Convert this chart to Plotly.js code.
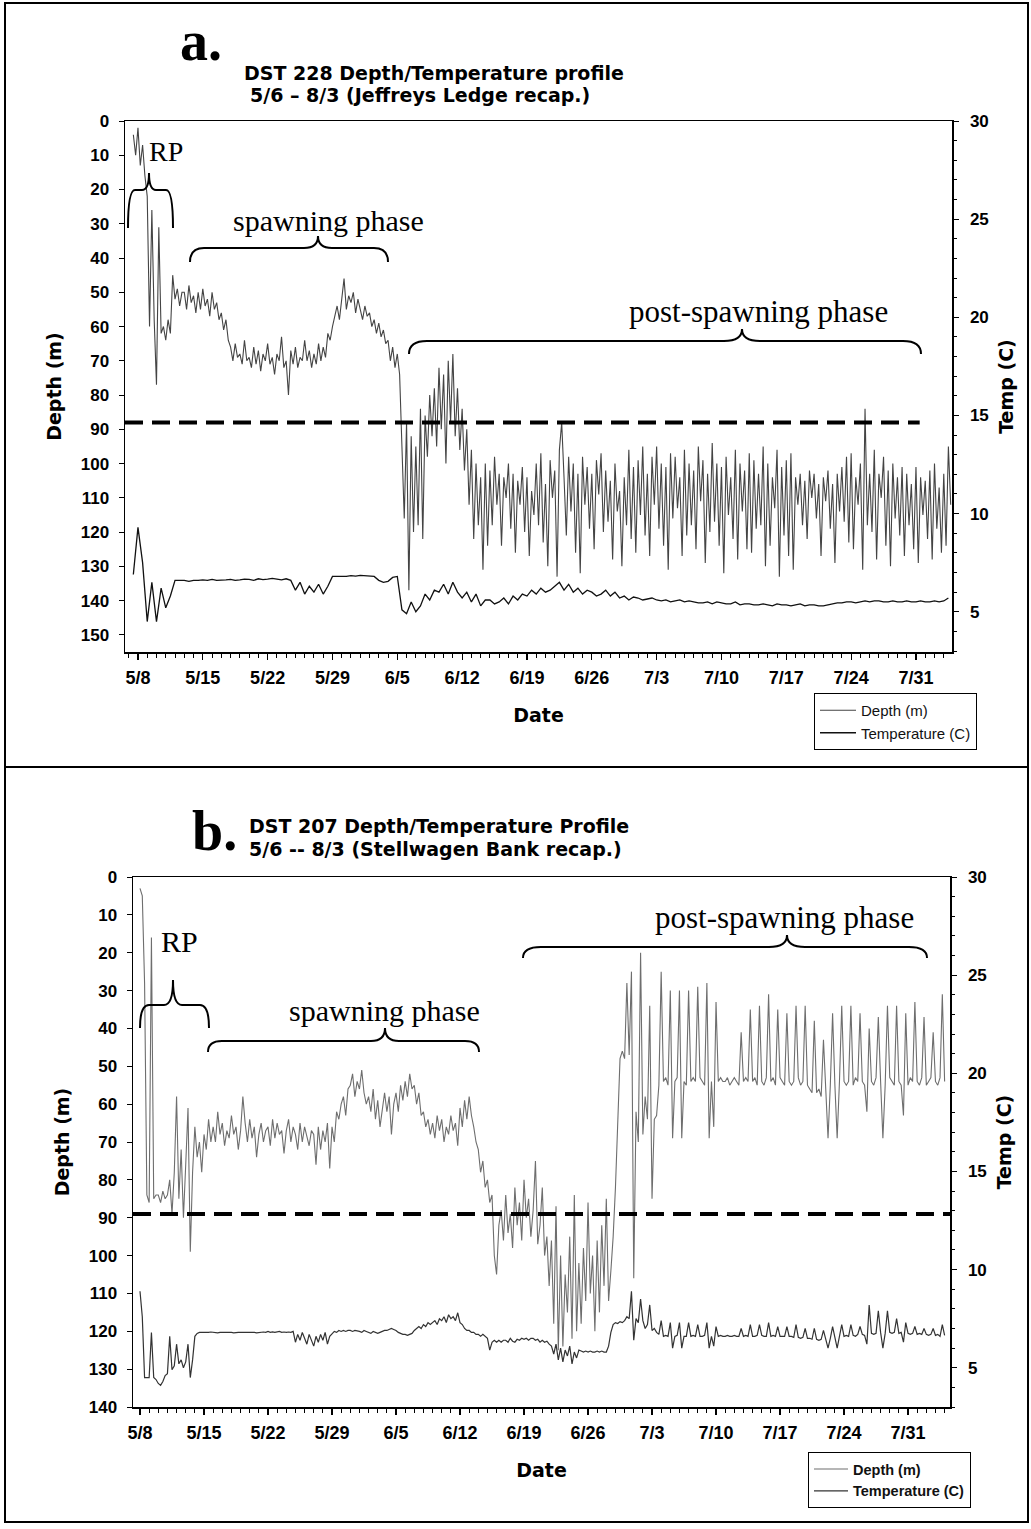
<!DOCTYPE html>
<html><head><meta charset="utf-8">
<script src="https://cdn.plot.ly/plotly-3.0.1.min.js"></script>
<style>html,body{margin:0;padding:0;background:#fff}</style>
</head><body><div id="chart" style="width:1031px;height:1529px"></div>
<script>
// ---------------- DATA ----------------
const YEAR = 2005;
const weekTickLabels = ['5/8','5/15','5/22','5/29','6/5','6/12','6/19','6/26','7/3','7/10','7/17','7/24','7/31'];

// Panel a: DST 228 (Jeffreys Ledge) — depth every 6 h from 5/7 12:00
const depthA_start = '5/7 12';
const depthA_stepHours = 6;
const depthA = [4,10,
2,13,7,16, 22,60,26,58, 77,31,62,60, 64,58,62,45, 52,49,54,50,
50,55,48,53, 51,56,50,55, 49,54,52,57, 50,55,53,58, 56,61,58,64,
66,70,65,69, 68,71,64,70, 69,72,66,71, 67,73,68,70, 65,71,69,74,
68,70,63,72, 70,80,67,71, 66,72,69,70, 64,70,67,72, 68,71,65,70,
66,69,62,64, 60,57,54,58, 52,46,55,51, 53,50,56,52, 55,58,54,57,
56,60,58,62, 59,63,61,65, 64,70,66,72, 68,74,95,116, 88,137,92,120,
95,118,84,122, 86,98,80,92, 78,95,72,90, 74,100,70,88, 68,92,78,96,
84,102,90,112, 96,122,100,118, 104,131,100,124, 102,118,98,112, 103,124,104,110,
100,119,103,126, 105,112,101,120, 104,127,108,115, 100,118,97,123, 106,130,99,110,
102,133,96,88, 104,121,98,114, 100,126,103,132, 98,112,101,119, 103,125,99,109,
97,120,102,117, 105,128,100,114, 108,130,104,118, 96,122,101,126, 99,115,95,121,
103,127,98,112, 95,119,100,124, 101,131,97,116, 98,113,104,127, 96,121,100,118,
102,125,95,111, 99,129,103,120, 94,117,100,124, 101,132,98,115, 104,122,96,128,
100,114,102,125, 97,126,99,119, 103,118,95,130, 100,124,104,113, 96,133,101,121,
99,127,97,131, 104,112,103,118, 105,122,102,110, 103,116,106,127, 104,111,102,119,
106,129,103,114, 101,117,98,123, 97,125,104,112, 100,131,84,118, 103,120,96,128,
103,110,98,124, 102,130,100,116, 104,121,101,127, 103,118,106,125, 101,129,104,115,
105,122,102,128, 100,119,107,126, 103,124,95,112];

// Panel a temperature every 12 h from 5/7 12:00
const tempA_start = '5/7 12';
const tempA_stepHours = 12;
const tempA = [6.9,
9.3,7.5, 4.5,6.5, 4.5,6.2, 5.2,5.8, 6.6,6.6, 6.6,6.55, 6.6,6.6, 6.62,6.6, 6.65,6.6, 6.6,6.62,
6.65,6.6, 6.62,6.66, 6.65,6.6, 6.68,6.64, 6.66,6.7, 6.66,6.62, 6.68,6.6, 6.1,6.5, 5.9,6.3, 6.0,6.4,
5.9,6.3, 6.8,6.8, 6.82,6.8, 6.84,6.82, 6.85,6.84, 6.83,6.8, 6.6,6.5, 6.55,6.75, 6.8,5.1, 4.9,5.5,
5.0,5.3, 5.9,5.6, 6.1,6.0, 6.4,5.9, 6.5,6.0, 5.7,6.0, 5.5,5.9, 5.3,5.6, 5.6,5.4, 5.5,5.7,
5.4,5.8, 5.6,5.9, 5.8,6.1, 5.9,6.2, 6.0,6.1, 6.3,6.5, 6.1,6.4, 6.0,6.2, 5.9,6.1, 6.0,5.8,
5.9,6.1, 5.8,6.0, 5.7,5.8, 5.6,5.75, 5.7,5.6, 5.65,5.7, 5.6,5.55, 5.6,5.5, 5.55,5.6, 5.5,5.55,
5.5,5.45, 5.45,5.5, 5.4,5.5, 5.45,5.4, 5.4,5.5, 5.35,5.4, 5.4,5.35, 5.35,5.4, 5.35,5.3, 5.4,5.35,
5.35,5.3, 5.35,5.4, 5.3,5.35, 5.35,5.3, 5.3,5.35, 5.4,5.45, 5.45,5.5, 5.5,5.45, 5.5,5.55, 5.5,5.55,
5.55,5.5, 5.5,5.55, 5.5,5.5, 5.55,5.5, 5.5,5.55, 5.5,5.5, 5.55,5.5, 5.55,5.7];

// Panel b: DST 207 (Stellwagen Bank) — depth every 6 h from 5/8 00:00
const depthB_start = '5/8 0';
const depthB_stepHours = 6;
const depthB = [3,5,28,84,
86,16,85,84, 84,86,83,85, 84,80,89,78, 58,85,72,90, 76,61,99,78,
66,74,70,78, 68,72,64,70, 66,70,62,68, 65,71,67,69, 63,68,66,72,
67,58,65,70, 64,69,66,74, 68,65,70,67, 66,71,64,69, 65,68,67,73,
67,64,70,66, 68,72,65,70, 66,69,71,67, 68,76,66,72, 67,70,65,77,
66,70,62,64, 60,58,63,56, 55,52,58,54, 56,51,57,60, 58,62,56,64,
59,66,61,57, 62,58,68,60, 57,62,55,59, 54,58,52,56, 55,60,57,63,
62,66,64,68, 65,69,63,67, 64,70,66,68, 63,67,65,71, 61,66,59,64,
58,63,66,70, 72,78,75,82, 80,86,84,100, 105,92,88,96, 84,94,89,98,
82,92,86,96, 80,90,85,95, 88,75,97,92, 82,100,95,108, 96,118,87,125,
100,124,105,115, 95,122,84,120, 102,118,98,112, 86,110,100,120, 96,115,92,108,
85,112,104,95, 82,62,48,46, 48,28,47,25, 106,62,70,20, 68,58,64,34,
85,64,63,55, 25,54,53,55, 30,69,54,53, 30,69,54,55, 30,54,53,54,
29,53,54,55, 28,69,54,66, 33,54,53,54, 54,53,55,54, 53,54,55,41,
54,53,54,35, 54,53,55,34, 54,55,53,31, 54,53,55,35, 53,54,55,36,
54,55,54,34, 53,55,54,34, 55,56,57,38, 57,56,58,43, 56,69,55,36,
55,69,54,34, 54,55,54,34, 55,53,54,36, 54,55,62,40, 54,55,53,37,
54,69,55,34, 53,54,55,34, 54,55,63,36, 55,53,54,33, 54,55,53,37,
55,54,53,41, 54,55,53,31, 54];

// Panel b temperature every 6 h from 5/8 00:00
const tempB_start = '5/8 0';
const tempB_stepHours = 6;
const tempB = [8.9,7.6,4.5,4.5,
4.5,6.8,4.5,4.4, 4.2,4.1,4.3,4.6, 4.7,6.6,4.9,5.1, 6.2,5.2,5.4,5.0, 5.3,6.2,4.5,5.4,
6.6,6.75,6.8,6.8, 6.8,6.78,6.8,6.82, 6.8,6.8,6.78,6.8, 6.8,6.82,6.8,6.8, 6.8,6.78,6.8,6.8,
6.8,6.8,6.82,6.8, 6.82,6.8,6.8,6.78, 6.8,6.8,6.82,6.8, 6.85,6.8,6.83,6.8, 6.82,6.85,6.8,6.82,
6.8,6.82,6.8,6.85, 6.3,6.7,6.4,6.8, 6.5,6.2,6.7,6.4, 6.1,6.6,6.3,6.7, 6.4,6.8,6.2,6.6,
6.75,6.85,6.8,6.9, 6.85,6.9,6.85,6.9, 6.9,6.85,6.9,6.88, 6.85,6.8,6.9,6.85, 6.8,6.75,6.85,6.8,
6.75,6.8,6.85,6.9, 6.9,6.95,7.0,6.95, 6.9,6.8,6.75,6.7, 6.7,6.65,6.7,6.75, 6.9,7.0,7.1,7.0,
7.2,7.1,7.3,7.2, 7.3,7.4,7.2,7.5, 7.4,7.6,7.3,7.7, 7.5,7.6,7.4,7.8, 7.3,7.2,7.0,6.9,
6.9,6.8,6.8,6.7, 6.7,6.6,6.7,6.6, 6.5,5.9,6.3,6.4, 6.3,6.4,6.3,6.4, 6.4,6.3,6.5,6.35,
6.3,6.45,6.4,6.5, 6.45,6.5,6.4,6.5, 6.5,6.4,6.45,6.3, 6.4,6.3,6.35,6.2, 6.1,5.7,6.2,5.4,
6.0,5.3,5.9,5.6, 6.1,5.2,5.8,5.5, 5.9,5.85,5.8,5.85, 5.8,5.85,5.8,5.8, 5.85,5.8,5.85,5.8,
5.8,6.1,6.8,7.2, 7.3,7.25,7.35,7.3, 7.4,7.6,7.5,8.9, 6.4,7.5,7.3,8.5, 7.4,7.0,7.2,8.2,
6.9,7.0,6.8,6.7, 7.4,6.6,6.65,6.6, 7.3,6.0,6.6,6.65, 7.3,6.0,6.6,6.6, 7.3,6.6,6.65,6.6,
7.2,6.6,6.6,6.65, 7.3,6.0,6.6,6.1, 7.1,6.6,6.65,6.6, 6.6,6.65,6.6,6.6, 6.65,6.6,6.6,7.0,
6.6,6.65,6.6,7.2, 6.6,6.6,6.65,7.2, 6.65,6.6,6.6,7.3, 6.6,6.65,6.6,7.1, 6.6,6.6,6.6,7.1,
6.6,6.6,6.55,7.2, 6.55,6.5,6.55,7.0, 6.5,6.5,6.45,7.0, 6.45,6.4,6.45,6.9, 6.5,6.0,6.5,7.1,
6.55,6.0,6.6,7.2, 6.6,6.65,6.6,7.2, 6.65,6.6,6.7,7.1, 6.7,6.65,6.2,8.2, 6.75,6.7,6.75,7.9,
6.8,6.0,6.75,7.9, 6.8,6.75,6.8,7.5, 6.75,6.8,6.3,7.3, 6.75,6.7,6.75,7.1, 6.7,6.75,6.7,7.0,
6.7,6.65,6.7,7.0, 6.65,6.7,6.6,7.2, 6.65];

const thresholdDepthA = 88;
const thresholdDepthB = 89;

// ---------------- HELPERS ----------------
const W = 1031, H = 1529;
const DAY = 86400000;
function md(s) { // 'm/d h' -> ms
  const [dpart, hpart] = s.split(' ');
  const [m, d] = dpart.split('/').map(Number);
  return Date.UTC(YEAR, m - 1, d, hpart ? Number(hpart) : 0);
}
function sampleTimes(start, stepHours, n) {
  const t0 = md(start), out = [];
  for (let i = 0; i < n; i++) out.push(t0 + i * stepHours * 3600000);
  return out;
}
const px = x => x / W;
const py = y => 1 - y / H;
const P = (x, y) => px(x).toFixed(5) + ',' + py(y).toFixed(5);

const tickVals = weekTickLabels.map(s => md(s));
const base = md('5/8');

// axis ranges (layout)
const rangeA = [base - 1.40 * DAY, base + 87.89 * DAY];
const rangeB = [base - 0.766 * DAY, base + 88.59 * DAY];

// ---------------- TRACES ----------------
const traces = [
  {x: sampleTimes(depthA_start, depthA_stepHours, depthA.length), y: depthA, type: 'scatter', mode: 'lines',
   name: 'Depth (m)', xaxis: 'x', yaxis: 'y', line: {color: '#444', width: 1.1}, legend: 'legend'},
  {x: sampleTimes(tempA_start, tempA_stepHours, tempA.length), y: tempA, type: 'scatter', mode: 'lines',
   name: 'Temperature (C)', xaxis: 'x', yaxis: 'y2', line: {color: '#111', width: 1.3}, legend: 'legend'},
  {x: sampleTimes(depthB_start, depthB_stepHours, depthB.length), y: depthB, type: 'scatter', mode: 'lines',
   name: 'Depth (m)', xaxis: 'x2', yaxis: 'y3', line: {color: '#6e6e6e', width: 1.1}, legend: 'legend2'},
  {x: sampleTimes(tempB_start, tempB_stepHours, tempB.length), y: tempB, type: 'scatter', mode: 'lines',
   name: 'Temperature (C)', xaxis: 'x2', yaxis: 'y4', line: {color: '#333', width: 1.2}, legend: 'legend2'}
];

// ---------------- LAYOUT ----------------
const tickFontX = {family: 'Liberation Sans, Arial', size: 18, color: '#000', weight: 'bold'};
const tickFontY = {family: 'Liberation Sans, Arial', size: 17, color: '#000', weight: 'bold'};
const titleFont = {family: 'DejaVu Sans', size: 19, color: '#000', weight: 'bold'};

function xAxis(domain, anchor, range) {
  return {type: 'date', domain, anchor, range, tickmode: 'array', tickvals: tickVals, ticktext: weekTickLabels,
    ticks: 'outside', ticklen: 6, tickcolor: '#000', tickwidth: 1.2, ticklabelstandoff: 3,
    minor: {dtick: DAY, tick0: base, ticks: 'outside', ticklen: 4, tickcolor: '#000', tickwidth: 1},
    showline: true, mirror: true, linecolor: '#000', linewidth: 1.5, showgrid: false, zeroline: false,
    tickfont: tickFontX, title: {text: 'Date', font: titleFont, standoff: 21}};
}
function depthAxis(domain, anchor, range) {
  return {domain, anchor, range, tickmode: 'linear', tick0: 0, dtick: 10,
    ticks: 'outside', ticklen: 5, tickcolor: '#000', ticklabelstandoff: 6,
    showline: true, linecolor: '#000', linewidth: 1.5, showgrid: false, zeroline: false,
    tickfont: tickFontY, title: {text: 'Depth (m)', font: titleFont, standoff: 14}};
}
function tempAxis(overlay, anchor, range) {
  return {overlaying: overlay, anchor, side: 'right', range, tickmode: 'linear', tick0: 0, dtick: 5,
    ticks: 'outside', ticklen: 5, tickcolor: '#000', ticklabelstandoff: 8,
    minor: {dtick: 1, ticks: 'outside', ticklen: 3, tickcolor: '#000'},
    showline: true, linecolor: '#000', linewidth: 1.5, showgrid: false, zeroline: false,
    tickfont: tickFontY, title: {text: 'Temp (C)', font: titleFont, standoff: 12}};
}

function ann(text, x, y, font, xanchor) {
  return {text, x: px(x), y: py(y), xref: 'paper', yref: 'paper', showarrow: false, borderpad: 0,
    xanchor: xanchor || 'left', yanchor: 'middle', font};
}
const serif = s => ({family: 'Liberation Serif, Times New Roman', size: s, color: '#000'});
const serifBold = s => ({family: 'Liberation Serif, Times New Roman', size: s, color: '#000', weight: 'bold'});

const annotations = [
  ann('a.', 179, 41, serifBold(56)),
  ann('DST 228 Depth/Temperature profile', 243, 72.5, titleFont),
  ann('5/6 \u2013 8/3 (Jeffreys Ledge recap.)', 249, 95, titleFont),
  ann('RP', 148, 152, serif(28)),
  ann('spawning phase', 328, 220, serif(30), 'center'),
  ann('post-spawning phase', 758, 311, serif(31), 'center'),
  ann('b.', 191, 831, serifBold(56)),
  ann('DST 207 Depth/Temperature Profile', 248, 826, titleFont),
  ann('5/6 -- 8/3 (Stellwagen Bank recap.)', 248, 849, titleFont),
  ann('RP', 160, 941, serif(30)),
  ann('spawning phase', 384, 1010, serif(30), 'center'),
  ann('post-spawning phase', 784, 917, serif(31), 'center')
];

// curly braces (page pixel geometry)
function bracePath(L, R, C, T, E, tip, r) {
  return 'M' + P(L, E) + ' Q' + P(L, T) + ' ' + P(L + r, T) +
    ' L' + P(C - r, T) + ' Q' + P(C, T) + ' ' + P(C, tip) +
    ' Q' + P(C, T) + ' ' + P(C + r, T) +
    ' L' + P(R - r, T) + ' Q' + P(R, T) + ' ' + P(R, E);
}
const braces = [
  bracePath(128, 173, 149, 190, 228, 173, 7),
  bracePath(190, 388, 318, 248, 262, 236, 14),
  bracePath(409, 921, 742, 341, 354, 329, 18),
  bracePath(140, 209, 173, 1005, 1028, 980, 9),
  bracePath(208, 479, 385, 1041, 1052, 1028, 14),
  bracePath(523, 927, 787, 947, 958, 935, 18)
];

const shapes = [
  // frames
  {type: 'rect', xref: 'paper', yref: 'paper', x0: px(5), x1: px(1028), y0: py(3), y1: py(1522), line: {color: '#000', width: 2}},
  {type: 'line', xref: 'paper', yref: 'paper', x0: px(5), x1: px(1028), y0: py(767), y1: py(767), line: {color: '#000', width: 2}},
  // reference depth lines
  {type: 'line', xref: 'x', yref: 'y', x0: rangeA[0], x1: base + 84.4 * DAY, y0: thresholdDepthA, y1: thresholdDepthA,
   line: {color: '#000', width: 4, dash: '18px,9px'}},
  {type: 'line', xref: 'x2 domain', yref: 'y3', x0: 0, x1: 1, y0: thresholdDepthB, y1: thresholdDepthB,
   line: {color: '#000', width: 4, dash: '18px,9px'}}
].concat(braces.map(p => ({type: 'path', xref: 'paper', yref: 'paper', path: p, line: {color: '#000', width: 2}})));

const layout = {
  width: W, height: H, margin: {l: 0, r: 0, t: 0, b: 0}, paper_bgcolor: '#fff', plot_bgcolor: '#fff',
  showlegend: true, hovermode: false,
  xaxis: xAxis([px(125), px(952)], 'y', rangeA),
  yaxis: depthAxis([py(652), py(121)], 'x', [155, 0]),
  yaxis2: tempAxis('y', 'x', [2.95, 30]),
  xaxis2: xAxis([px(133), px(950)], 'y3', rangeB),
  yaxis3: depthAxis([py(1407), py(877)], 'x2', [140, 0]),
  yaxis4: tempAxis('y3', 'x2', [3.0, 30]),
  legend: {x: px(814), y: py(693), xanchor: 'left', yanchor: 'top', bgcolor: '#fff', bordercolor: '#000', borderwidth: 1,
    font: {family: 'Liberation Sans, Arial', size: 15, color: '#111'}, itemwidth: 36, tracegroupgap: 0},
  legend2: {x: px(808), y: py(1452), xanchor: 'left', yanchor: 'top', bgcolor: '#fff', bordercolor: '#000', borderwidth: 1,
    font: {family: 'Liberation Sans, Arial', size: 14.5, color: '#111', weight: 'bold'}, itemwidth: 34, tracegroupgap: 0},
  annotations, shapes
};

Plotly.newPlot('chart', traces, layout, {staticPlot: true, displayModeBar: false});
</script>
</body></html>
